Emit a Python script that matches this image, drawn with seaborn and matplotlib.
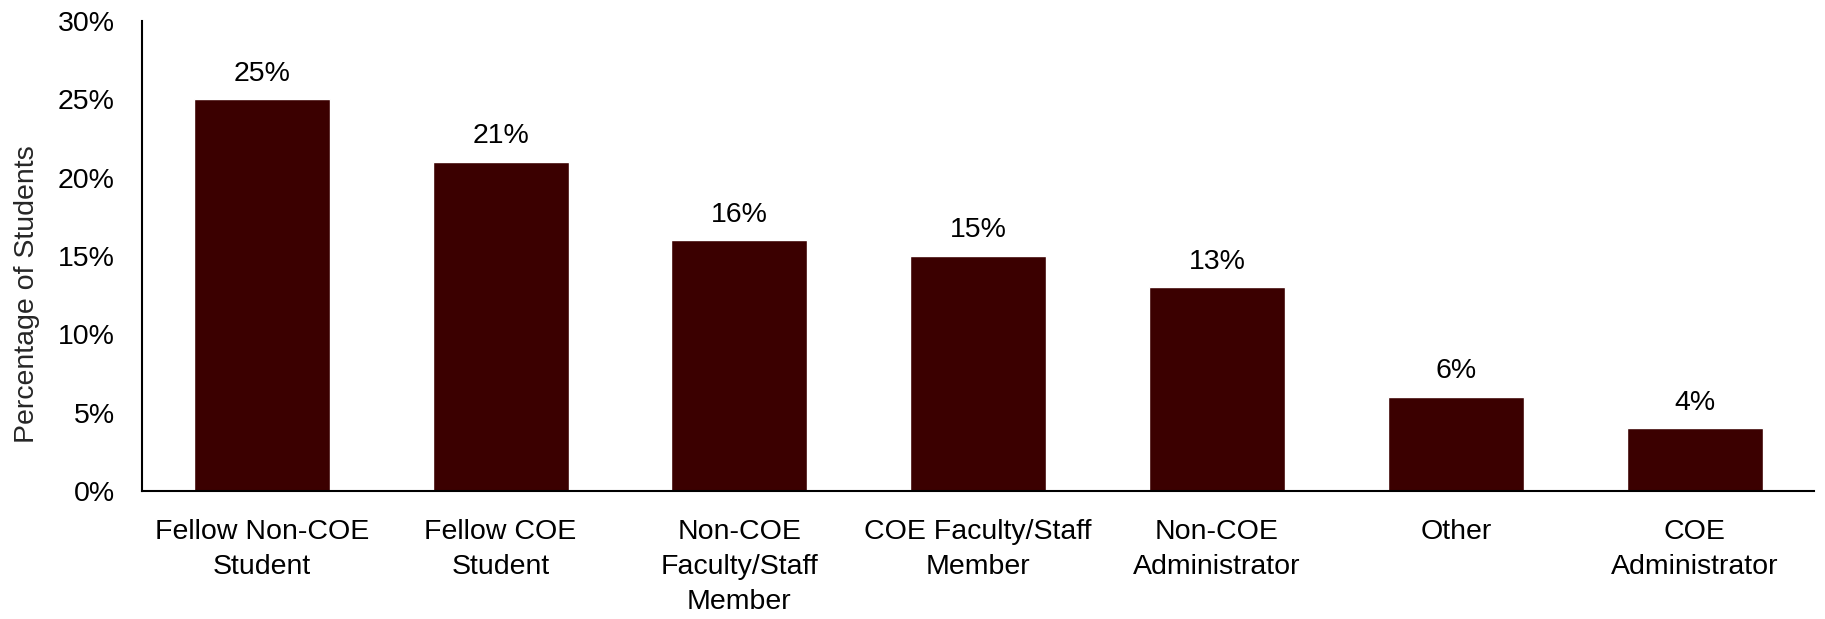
import matplotlib
matplotlib.use("Agg")
import matplotlib.pyplot as plt
import seaborn as sns
import pandas as pd
from matplotlib.ticker import PercentFormatter

# dados
categorias = [
    "Fellow Non-COE\nStudent",
    "Fellow COE\nStudent",
    "Non-COE\nFaculty/Staff\nMember",
    "COE Faculty/Staff\nMember",
    "Non-COE\nAdministrator",
    "Other",
    "COE\nAdministrator",
]
percentuais = [25, 21, 16, 15, 13, 6, 4]

df = pd.DataFrame({"categoria": categorias, "pct": percentuais})

sns.set_style("white")
plt.rcParams["font.family"] = ["Liberation Sans", "DejaVu Sans"]

fig, ax = plt.subplots(figsize=(18.25, 6.19), dpi=100)
fig.subplots_adjust(left=0.078, right=0.994, top=0.966, bottom=0.207)

sns.barplot(data=df, x="categoria", y="pct", color="#3b0000",
            saturation=1, width=0.57, ax=ax)

for i, v in enumerate(percentuais):
    ax.annotate(f"{v}%", (i, v), xytext=(0, 9), textcoords="offset points",
                ha="center", va="bottom", fontsize=20.5, color="black")

ax.set_ylim(0, 30)
ax.set_xlim(-0.5, 6.5)
ax.set_yticks(range(0, 31, 5))
ax.yaxis.set_major_formatter(PercentFormatter(decimals=0))
ax.set_xlabel("")
ax.set_ylabel("Percentage of Students", fontsize=20.5)
ax.yaxis.set_label_coords(-0.061, 0.418)
ax.tick_params(axis="both", length=0, labelsize=20.5, colors="black")
ax.tick_params(axis="x", pad=20)
ax.tick_params(axis="y", pad=20)
for lbl in ax.get_xticklabels():
    lbl.set_linespacing(1.45)

sns.despine(ax=ax)
ax.spines["left"].set_color("black")
ax.spines["bottom"].set_color("black")
ax.spines["left"].set_linewidth(1.5)
ax.spines["bottom"].set_linewidth(1.5)

plt.savefig("out.png", dpi=100)
